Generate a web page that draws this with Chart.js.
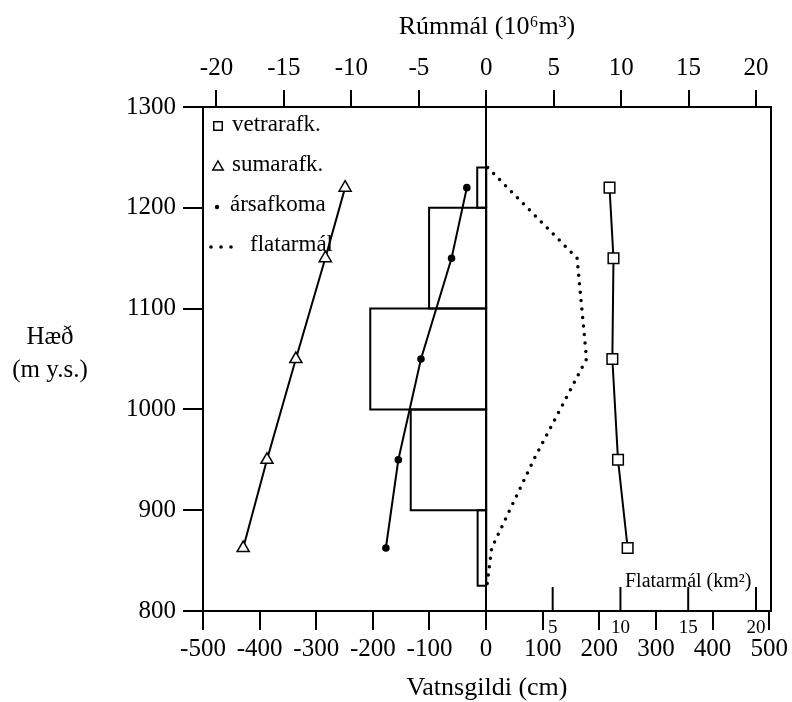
<!DOCTYPE html>
<html>
<head>
<meta charset="utf-8">
<script src="https://cdn.jsdelivr.net/npm/chart.js@4.4.1/dist/chart.umd.min.js"></script>
<style>
  html, body { margin: 0; padding: 0; background: #fff; }
</style>
</head>
<body>
<canvas id="chart" width="792" height="702"></canvas>
<script>
// --- Data ---
// height of each point (m y.s.)
const heights = [1220, 1150, 1050, 950, 862.5];
// balance in cm water equivalent
const winterBalance = [218, 225, 223, 233, 250];
const summerBalance = [-249, -284, -336, -387, -429];
const netBalance = [-34, -61, -115, -155, -177];

// volume per height band (10^6 m3)
const bandLow = [825, 900, 1000, 1100, 1200];
const bandHigh = [900, 1000, 1100, 1200, 1240];
const bandVolume = [-0.64, -5.6, -8.6, -4.24, -0.67];

// area per height (km2)
const areaHeights = [1240, 1150, 1050, 950, 862.5, 825];
const areaValues = [0.2, 6.8, 7.5, 3.6, 0.5, 0.15];

// tick labels
const heightTicks = [800, 900, 1000, 1100, 1200, 1300];
const balanceTicks = [-500, -400, -300, -200, -100, 0, 100, 200, 300, 400, 500];
const volumeTicks = [-20, -15, -10, -5, 0, 5, 10, 15, 20];
const areaTicks = [5, 10, 15, 20];

const FONT = "'Liberation Serif', 'Times New Roman', serif";
const BLACK = '#000';

function toPoints(xs, ys) {
    return xs.map((x, i) => ({ x: x, y: ys[i] }));
}

// plain numbers, no thousands separator
const plainLabel = v => String(v);

// each band is drawn as a closed outline from zero to its volume
const bandSets = bandLow.map((lo, i) => ({
    label: 'Rúmmál',
    xAxisID: 'x2',
    data: [
        { x: 0, y: lo },
        { x: bandVolume[i], y: lo },
        { x: bandVolume[i], y: bandHigh[i] },
        { x: 0, y: bandHigh[i] },
        { x: 0, y: lo }
    ],
    showLine: true,
    borderColor: BLACK,
    borderWidth: 2,
    pointRadius: 0
}));

// --- Small drawing helpers for plugins ---
function drawMarker(ctx, style, x, y, r) {
    ctx.save();
    ctx.strokeStyle = BLACK;
    ctx.lineWidth = 1.5;
    ctx.beginPath();
    if (style === 'rect') {
        const s = r * Math.SQRT1_2;
        ctx.rect(x - s, y - s, 2 * s, 2 * s);
        ctx.fillStyle = '#fff';
        ctx.fill();
        ctx.stroke();
    } else if (style === 'triangle') {
        ctx.moveTo(x, y - r);
        ctx.lineTo(x + r * 0.866, y + r / 2);
        ctx.lineTo(x - r * 0.866, y + r / 2);
        ctx.closePath();
        ctx.fillStyle = '#fff';
        ctx.fill();
        ctx.stroke();
    } else {
        ctx.arc(x, y, r, 0, Math.PI * 2);
        ctx.fillStyle = BLACK;
        ctx.fill();
    }
    ctx.restore();
}

const legendPlugin = {
    id: 'insideLegend',
    afterDraw(chart) {
        const ctx = chart.ctx;
        const left = chart.chartArea.left;
        const top = chart.chartArea.top;
        ctx.save();
        ctx.fillStyle = BLACK;
        ctx.font = '23px ' + FONT;
        ctx.textBaseline = 'middle';
        ctx.textAlign = 'left';

        drawMarker(ctx, 'rect', left + 15, top + 19, 6);
        ctx.fillText('vetrarafk.', left + 29, top + 18);

        drawMarker(ctx, 'triangle', left + 15, top + 60, 6);
        ctx.fillText('sumarafk.', left + 29, top + 58);

        drawMarker(ctx, 'circle', left + 14, top + 100, 2.2);
        ctx.fillText('ársafkoma', left + 27, top + 98);

        [8, 18, 28].forEach(dx => drawMarker(ctx, 'circle', left + dx, top + 140, 1.8));
        ctx.fillText('flatarmál', left + 47, top + 138);
        ctx.restore();
    }
};

const sideTitlePlugin = {
    id: 'sideTitle',
    afterDraw(chart) {
        const ctx = chart.ctx;
        ctx.save();
        ctx.fillStyle = BLACK;
        ctx.font = '25px ' + FONT;
        ctx.textAlign = 'center';
        ctx.textBaseline = 'middle';
        ctx.fillText('Hæð', 50, 337);
        ctx.fillText('(m y.s.)', 50, 370);
        ctx.restore();
    }
};

// inner axis for the area curve, ticks pointing up from the bottom frame
const areaAxisPlugin = {
    id: 'areaAxis',
    afterDraw(chart) {
        const ctx = chart.ctx;
        const scale = chart.scales.xArea;
        const bottom = chart.chartArea.bottom;
        ctx.save();
        ctx.strokeStyle = BLACK;
        ctx.fillStyle = BLACK;
        ctx.lineWidth = 2;
        ctx.font = '19px ' + FONT;
        ctx.textAlign = 'center';
        ctx.textBaseline = 'middle';
        areaTicks.forEach(v => {
            const px = scale.getPixelForValue(v);
            ctx.beginPath();
            ctx.moveTo(px, bottom);
            ctx.lineTo(px, bottom - 24);
            ctx.stroke();
            ctx.fillText(String(v), px, bottom + 17);
        });
        ctx.font = '20px ' + FONT;
        ctx.fillText('Flatarmál (km²)', scale.getPixelForValue(15), bottom - 29);
        ctx.restore();
    }
};

const ctx = document.getElementById('chart');

new Chart(ctx, {
    type: 'scatter',
    data: {
        datasets: [
            {
                label: 'vetrarafk.',
                data: toPoints(winterBalance, heights),
                showLine: true,
                borderColor: BLACK,
                borderWidth: 2,
                pointStyle: 'rect',
                pointRadius: 7.5,
                pointBorderWidth: 1.5,
                pointBackgroundColor: '#fff',
                pointBorderColor: BLACK
            },
            {
                label: 'sumarafk.',
                data: toPoints(summerBalance, heights),
                showLine: true,
                borderColor: BLACK,
                borderWidth: 2,
                pointStyle: 'triangle',
                pointRadius: 7,
                pointBorderWidth: 1.5,
                pointBackgroundColor: '#fff',
                pointBorderColor: BLACK
            },
            {
                label: 'ársafkoma',
                data: toPoints(netBalance, heights),
                showLine: true,
                borderColor: BLACK,
                borderWidth: 2,
                pointStyle: 'circle',
                pointRadius: 2.8,
                pointBackgroundColor: BLACK,
                pointBorderColor: BLACK
            },
            {
                label: 'flatarmál',
                xAxisID: 'xArea',
                data: toPoints(areaValues, areaHeights),
                showLine: true,
                borderColor: BLACK,
                borderWidth: 3.5,
                borderDash: [0, 8.5],
                borderCapStyle: 'round',
                pointRadius: 0
            },
            ...bandSets
        ]
    },
    options: {
        responsive: false,
        animation: false,
        events: [],
        layout: { padding: { left: 0, right: 21, top: 0, bottom: 0 } },
        plugins: {
            legend: { display: false },
            tooltip: { enabled: false }
        },
        scales: {
            x: {
                type: 'linear',
                position: 'bottom',
                min: -500,
                max: 503,
                afterBuildTicks: s => { s.ticks = balanceTicks.map(v => ({ value: v })); },
                afterFit: s => { s.height = 91; },
                grid: {
                    drawOnChartArea: true,
                    color: c => (c.tick && c.tick.value === 0 ? BLACK : 'rgba(0,0,0,0)'),
                    tickColor: BLACK,
                    tickLength: 19,
                    lineWidth: 2,
                    tickWidth: 2
                },
                border: { display: true, color: BLACK, width: 2 },
                ticks: {
                    color: BLACK,
                    font: { family: FONT, size: 25 },
                    padding: 4,
                    maxRotation: 0,
                    autoSkip: false,
                    callback: plainLabel
                },
                title: {
                    display: true,
                    text: 'Vatnsgildi (cm)',
                    color: BLACK,
                    font: { family: FONT, size: 26, lineHeight: 1.05 },
                    padding: { top: 0, bottom: 0 }
                }
            },
            x2: {
                type: 'linear',
                position: 'top',
                min: -21,
                max: 21.1,
                afterBuildTicks: s => { s.ticks = volumeTicks.map(v => ({ value: v })); },
                afterFit: s => { s.height = 107; },
                grid: { drawOnChartArea: false, color: BLACK, tickLength: 17, lineWidth: 2 },
                border: { display: true, color: BLACK, width: 2 },
                ticks: {
                    color: BLACK,
                    font: { family: FONT, size: 25 },
                    padding: 7,
                    maxRotation: 0,
                    autoSkip: false,
                    callback: plainLabel
                },
                title: {
                    display: true,
                    text: 'Rúmmál (10⁶m³)',
                    color: BLACK,
                    font: { family: FONT, size: 26 },
                    padding: { top: 12, bottom: 0 }
                }
            },
            xArea: {
                type: 'linear',
                display: false,
                min: -20.8,
                max: 21.1
            },
            y: {
                type: 'linear',
                position: 'left',
                min: 800,
                max: 1300,
                afterBuildTicks: s => { s.ticks = heightTicks.map(v => ({ value: v })); },
                afterFit: s => { s.width = 203; },
                grid: { drawOnChartArea: false, color: BLACK, tickLength: 20, lineWidth: 2 },
                border: { display: true, color: BLACK, width: 2 },
                ticks: {
                    color: BLACK,
                    font: { family: FONT, size: 25 },
                    padding: 7,
                    callback: plainLabel
                }
            },
            y2: {
                type: 'linear',
                position: 'right',
                min: 800,
                max: 1300,
                afterFit: s => { s.width = 0; },
                grid: { display: false },
                ticks: { display: false },
                border: { display: true, color: BLACK, width: 2 }
            }
        }
    },
    plugins: [legendPlugin, sideTitlePlugin, areaAxisPlugin]
});
</script>
</body>
</html>
